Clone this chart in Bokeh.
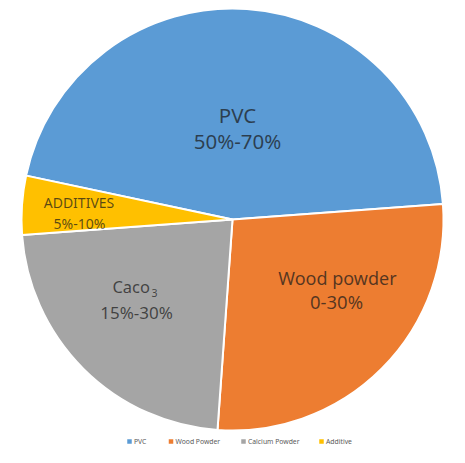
import numpy as np
from bokeh.plotting import figure
from bokeh.models import Range1d, ColumnDataSource
from bokeh.core.properties import value
from bokeh.embed import file_html
from bokeh.resources import INLINE

categories = ["PVC", "Wood Powder", "Calcium Powder", "Additive"]
shares = [45.5, 27.3, 22.7, 4.5]
colors = ["#5B9BD5", "#ED7D31", "#A5A5A5", "#FFC000"]
label_line1 = ["PVC", "Wood powder", "Caco", "ADDITIVES"]
label_line2 = ["50%-70%", "0-30%", "15%-30%", "5%-10%"]

W, H = 449, 447
p = figure(width=W, height=H, output_backend="svg", toolbar_location=None,
           x_range=Range1d(0, W), y_range=Range1d(463 - H, 463),
           min_border=0)
p.axis.visible = False
p.grid.visible = False
p.outline_line_color = None
p.background_fill_color = "white"

def Y(y):
    return 463 - y

cx, cy, r = 232, Y(219), 211
frac = np.array(shares) / sum(shares)
start0 = np.deg2rad(168)
ends = start0 - np.cumsum(frac) * 2 * np.pi
starts = np.concatenate([[start0], ends[:-1]])
src = ColumnDataSource(dict(start=ends, end=starts, color=colors, cat=categories))
p.wedge(x=cx, y=cy, radius=r, start_angle="start", end_angle="end", direction="anticlock",
        fill_color="color", line_color="white", line_width=2, source=src)

font = value("Noto Sans")
tc = "#1a1a1a"
ta = 0.72
pos1 = [(237, 114), (337, 277), (None, None), (78.5, 201.5)]
pos2 = [(237, 140.5), (336, 301), (136, 311.5), (79, 222.5)]
sizes1 = ["20.5px", "18px", None, "14px"]
sizes2 = ["20.5px", "18.5px", "17px", "14px"]
for i in range(4):
    if i != 2:
        p.text(x=[pos1[i][0]], y=[Y(pos1[i][1])], text=[label_line1[i]], text_font=font,
               text_font_size=sizes1[i], text_color=tc, text_alpha=ta,
               text_align="center", text_baseline="middle")
    p.text(x=[pos2[i][0]], y=[Y(pos2[i][1])], text=[label_line2[i]], text_font=font,
           text_font_size=sizes2[i], text_color=tc, text_alpha=ta,
           text_align="center", text_baseline="middle")
p.text(x=[149.5], y=[Y(286)], text=[label_line1[2]], text_font=font, text_font_size="16.5px",
       text_color=tc, text_alpha=ta, text_align="right", text_baseline="middle")
p.text(x=[151], y=[Y(292)], text=["3"], text_font=font, text_font_size="10.5px",
       text_color=tc, text_alpha=ta, text_align="left", text_baseline="middle")

lx = [129, 170.5, 243, 321]
p.scatter(x=lx, y=[Y(441)] * 4, marker="square", size=4.5, fill_color=colors, line_color=None)
p.text(x=[v + 4.5 for v in lx], y=[Y(441)] * 4, text=categories, text_font=font,
       text_font_size="6.8px", text_color="#595959", text_align="left", text_baseline="middle")

open("out.html", "w").write(file_html(p, INLINE))
